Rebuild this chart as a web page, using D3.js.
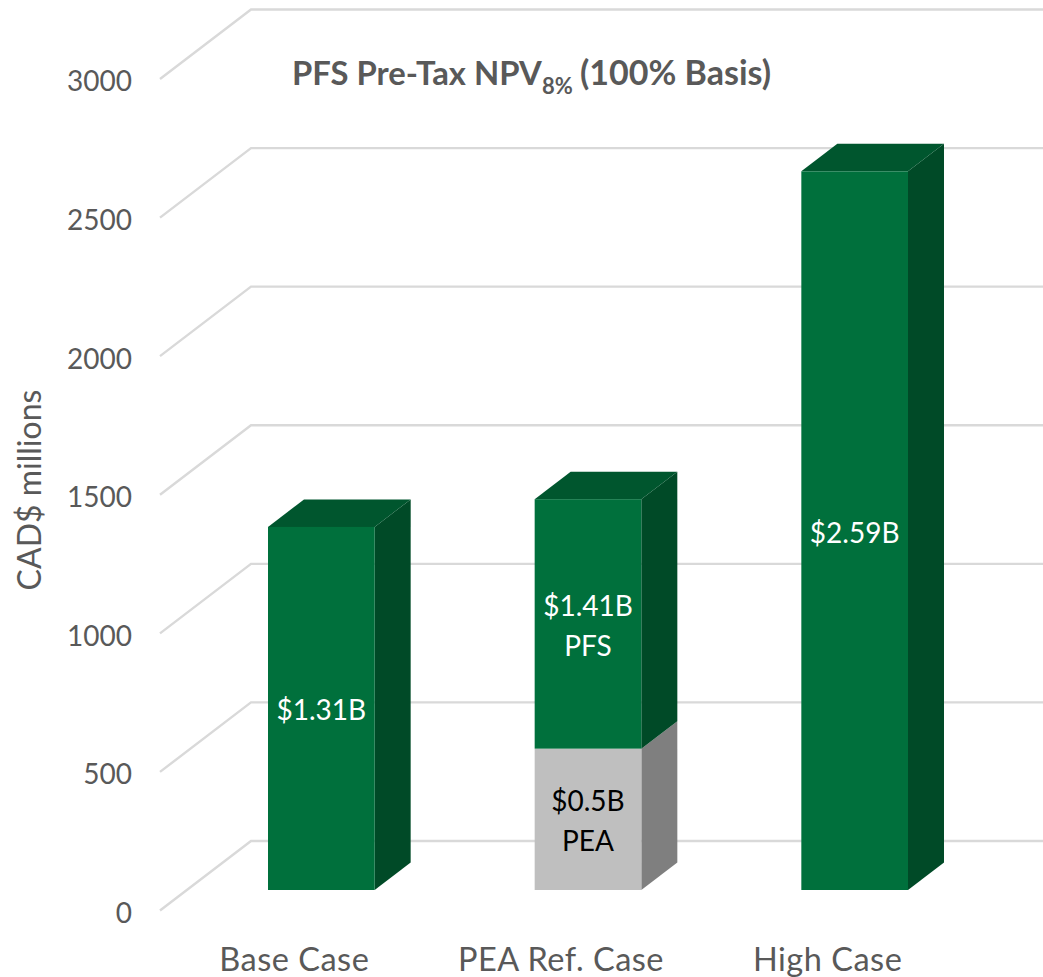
<!DOCTYPE html>
<html><head><meta charset="utf-8">
<script src="https://cdn.jsdelivr.net/npm/d3@7/dist/d3.min.js"></script>
<style>html,body{margin:0;padding:0;background:#fff}svg{display:block}text{font-family:Lato,sans-serif}</style>
</head><body><svg id="c" width="1043" height="977"></svg>
<script>
const categories = ["Base Case", "PEA Ref. Case", "High Case"];
const peaValues = [0, 510, 0];
const pfsValues = [1310, 900, 2593];
const topLabels = [["$1.31B"], ["$1.41B", "PFS"], ["$2.59B"]];
const lowLabels = [[], ["$0.5B", "PEA"], []];
const yTicks = [0, 500, 1000, 1500, 2000, 2500, 3000];

const svg = d3.select("#c");
const textGrey = "#595959";
const y = d3.scaleLinear().domain([0, 3000]).range([910.5, 79]);
const x = d3.scaleBand().domain(categories).range([188, 988]).paddingInner(0.6).paddingOuter(0.3);
// 3D projection offsets
const wallDx = 91, wallDy = 69.5, barDy = 20.5, sideDx = 36, sideDy = 27.5;

// gridlines along side wall and back wall
svg.append("g").selectAll("path").data(yTicks).join("path")
  .attr("d", d => `M160,${y(d)}L${160 + wallDx},${y(d) - wallDy}L1043,${y(d) - wallDy}`)
  .attr("fill", "none").attr("stroke", "#d9d9d9").attr("stroke-width", 2.4);

// axis labels
const axis = d3.axisLeft(y).tickValues(yTicks).tickSize(0).tickPadding(0).tickFormat(d3.format("d"));
const ax = svg.append("g").attr("transform", "translate(132,3)").call(axis);
ax.select(".domain").remove();
ax.selectAll("text").attr("font-size", 28).attr("fill", textGrey).style("font-family", "Lato,sans-serif");

svg.append("text").attr("transform", "translate(41,490) rotate(-90)").attr("text-anchor", "middle")
  .attr("font-size", 32).attr("fill", textGrey).text("CAD$ millions");

svg.append("g").selectAll("text").data(categories).join("text")
  .attr("x", d => x(d) + x.bandwidth() / 2 - 27).attr("y", 971).attr("text-anchor", "middle")
  .attr("font-size", 32.5).attr("letter-spacing", 0.5).attr("fill", textGrey).text(d => d);

// title
const title = svg.append("text").attr("x", 292).attr("y", 85).attr("font-size", 32.8).attr("font-weight", 700).attr("fill", textGrey);
title.append("tspan").text("PFS Pre-Tax NPV");
title.append("tspan").attr("font-size", 22).attr("dy", 9).text("8%");
title.append("tspan").attr("x", 580).attr("dy", -9).attr("font-size", 34).text("(100% Basis)");

// bars
function box(g, x0, w, v0, v1, front, top, side, showTop) {
  const yb = y(v0) - barDy, yt = y(v1) - barDy, x1 = x0 + w;
  g.append("polygon").attr("fill", side)
    .attr("points", [[x1, yb], [x1 + sideDx, yb - sideDy], [x1 + sideDx, yt - sideDy], [x1, yt]].join(" "));
  if (showTop) g.append("polygon").attr("fill", top)
    .attr("points", [[x0, yt], [x0 + sideDx, yt - sideDy], [x1 + sideDx, yt - sideDy], [x1, yt]].join(" "));
  g.append("rect").attr("x", x0).attr("y", yt).attr("width", w).attr("height", yb - yt).attr("fill", front);
}
function labels(g, cx, v0, v1, lines, color) {
  const mid = (y(v0) + y(v1)) / 2 - barDy;
  g.append("g").selectAll("text").data(lines).join("text")
    .attr("x", cx).attr("y", (d, i) => mid + (i - (lines.length - 1) / 2) * 40 + 12)
    .attr("text-anchor", "middle").attr("font-size", 28).attr("fill", color).text(d => d);
}
const bars = svg.append("g");
categories.forEach((c, i) => {
  const g = bars.append("g");
  const x0 = x(c), w = x.bandwidth(), cx = x0 + w / 2;
  const a = peaValues[i], b = a + pfsValues[i];
  if (a > 0) box(g, x0, w, 0, a, "#bfbfbf", "#a6a6a6", "#7f7f7f", false);
  box(g, x0, w, a, b, "#00703c", "#00562e", "#004a27", true);
  if (a > 0) labels(g, cx, 0, a, lowLabels[i], "#000");
  labels(g, cx, a, b, topLabels[i], "#fff");
});
</script></body></html>
